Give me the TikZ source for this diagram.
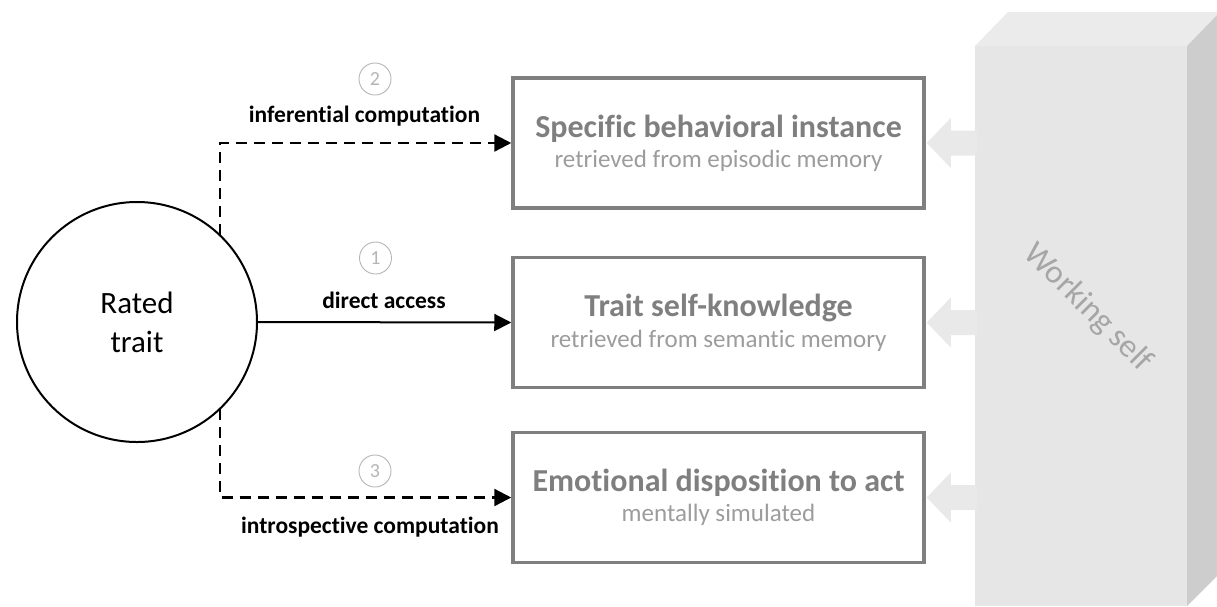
\documentclass[tikz,border=0pt]{standalone}
\usepackage{fontspec}
\setmainfont{Carlito}[Ligatures=NoCommon]
\usetikzlibrary{arrows.meta,calc}
\definecolor{boxgray}{HTML}{7F7F7F}
\definecolor{subgray}{HTML}{9C9C9C}
\definecolor{wsfront}{HTML}{E6E6E6}
\definecolor{wstop}{HTML}{EBEBEB}
\definecolor{wsside}{HTML}{CDCDCD}
\definecolor{wsarrowc}{HTML}{E9E9E9}
\definecolor{wstext}{HTML}{A6A6A6}
\definecolor{numgray}{HTML}{B5B5B5}
\newcommand{\ttlfont}{\fontsize{32}{36}\selectfont\bfseries\color{boxgray}}
\newcommand{\subfont}{\fontsize{25}{30}\selectfont\color{subgray}}
\tikzset{
  membox/.style={draw=boxgray, line width=3.5pt, minimum width=411pt, minimum height=130pt, align=center, inner sep=0pt},
  conn/.style={line width=2pt, -{Triangle[length=17pt,width=17pt]}},
  dashconn/.style={conn, line width=2.3pt, dash pattern=on 11pt off 7pt},
  lbl/.style={font=\fontsize{23.5}{26}\selectfont\bfseries, text=black},
  num/.style={circle, draw=numgray, line width=0.9pt, minimum size=32pt, inner sep=0pt, text=numgray, font=\fontsize{20}{22}\selectfont},
  wsarrow/.style={fill=wsarrowc, draw=none}
}
\begin{document}
\begin{tikzpicture}[x=1pt,y=-1pt]
\useasboundingbox (0,0) rectangle (1217,606);
% working self block
\fill[wstop] (975,46) -- (1008,12) -- (1220,12) -- (1187,46) -- cycle;
\fill[wsside] (1187,46) -- (1220,12) -- (1220,573) -- (1187,606) -- cycle;
\fill[wsfront] (975,46) rectangle (1187,606);
\node[text=wstext, rotate=-45, font=\fontsize{33}{36}\selectfont] (ws) at (1088,308) {Working self};
% boxes
\node[membox] (b1) at (718.5,143) {{\ttlfont Specific behavioral instance}\\[7pt]{\subfont retrieved from episodic memory}};
\node[membox] (b2) at (718.5,322.5) {{\ttlfont Trait self-knowledge}\\[7pt]{\subfont retrieved from semantic memory}};
\node[membox] (b3) at (718.5,497.5) {{\ttlfont Emotional disposition to act}\\[7pt]{\subfont mentally simulated}};
% block arrows
\foreach \b in {b1,b2,b3}{
  \fill[wsarrow] ($(\b.east)+(1,0)$) -- ++(24,-25) -- ++(0,12.5) -- ++(26,0) -- ++(0,25) -- ++(-26,0) -- ++(0,12.5) -- cycle;
}
% rated trait
\node[circle, draw=black, line width=2pt, minimum size=240pt, inner sep=0pt, align=center, font=\fontsize{31}{39}\selectfont] (rt) at (137,322) {Rated\\trait};
\coordinate (up) at (220,235);
\coordinate (dn) at (220,409);
% connectors
\draw[conn] (rt.east) -- (b2.west);
\draw[dashconn] (up) |- (b1.west);
\draw[dashconn] (dn) |- (b3.west);
% labels
\node[lbl] (l1) at (384,300) {direct access};
\node[lbl] (l2) at (364.5,116) {inferential computation};
\node[lbl] (l3) at (370,527) {introspective computation};
\node[num] (n1) at (375.5,258) {1};
\node[num] (n2) at (375,79) {2};
\node[num] (n3) at (375,471) {3};
\end{tikzpicture}
\end{document}
